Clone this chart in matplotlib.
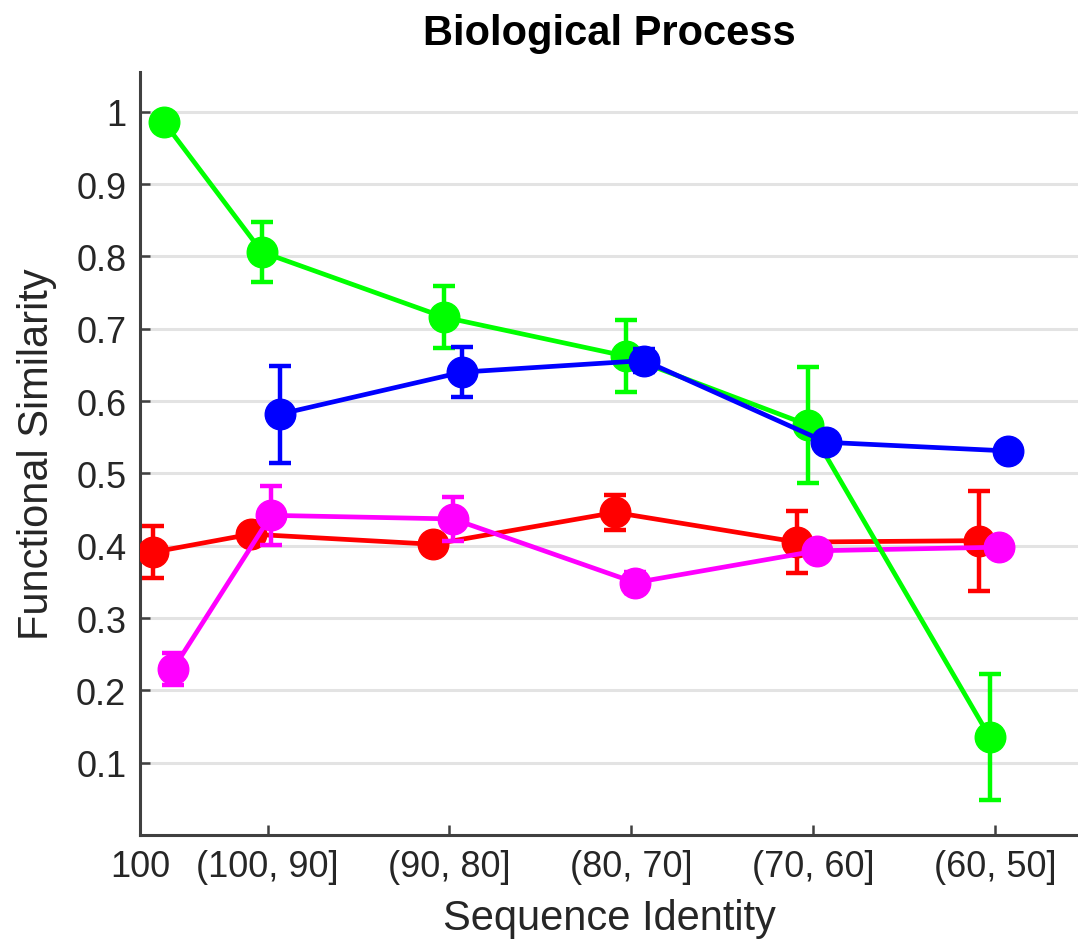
import numpy as np
import matplotlib
matplotlib.use('Agg')
import matplotlib.pyplot as plt

plt.rcParams['font.family'] = ['Liberation Sans', 'DejaVu Sans']

categories = ['100', '(100, 90]', '(90, 80]', '(80, 70]', '(70, 60]', '(60, 50]']
tick_pos = [0.3, 1, 2, 3, 4, 5]
cat_pos = np.array([0.46, 1, 2, 3, 4, 5])

red_y = [0.391, 0.416, 0.402, 0.446, 0.405, 0.407]
red_err = [0.036, 0.010, 0.008, 0.024, 0.043, 0.069]

magenta_y = [0.229, 0.442, 0.437, 0.349, 0.393, 0.398]
magenta_err = [0.022, 0.041, 0.030, 0.014, 0.008, 0.006]

green_y = [0.986, 0.806, 0.716, 0.662, 0.567, 0.135]
green_err = [0.008, 0.041, 0.043, 0.050, 0.080, 0.087]

blue_y = [np.nan, 0.582, 0.640, 0.656, 0.543, 0.531]
blue_err = [np.nan, 0.067, 0.035, 0.016, 0.008, 0.005]

series = [
    (red_y, red_err, '#ff0000', -0.09),
    (magenta_y, magenta_err, '#ff00ff', 0.02),
    (green_y, green_err, '#00ff00', -0.03),
    (blue_y, blue_err, '#0000ff', 0.07),
]

fig = plt.figure(figsize=(10.78, 9.45), dpi=100)
ax = fig.add_axes([0.13, 0.1153, 0.87, 0.8075])

for i, (y, err, col, off) in enumerate(series):
    ax.errorbar(cat_pos + off, y, yerr=err, color=col, marker='o', markersize=22,
                linewidth=3.4, elinewidth=3.2, capsize=8, capthick=3.2, zorder=3 + i)

ax.set_xlim(0.3, 5.454)
ax.set_ylim(0, 1.055)
ax.set_xticks(tick_pos)
ax.set_xticklabels(categories)
ax.set_yticks(np.arange(0.1, 1.01, 0.1))
ax.set_yticklabels(['0.1', '0.2', '0.3', '0.4', '0.5', '0.6', '0.7', '0.8', '0.9', '1'])

ax.yaxis.grid(True, color='#e3e3e3', linewidth=2.2)
ax.set_axisbelow(True)
for s in ['top', 'right']:
    ax.spines[s].set_visible(False)
for s in ['left', 'bottom']:
    ax.spines[s].set_color('#404040')
    ax.spines[s].set_linewidth(2.2)

ax.tick_params(direction='in', length=7, width=1.8, color='#404040',
               labelsize=26, labelcolor='#262626', pad=10)

ax.set_xlabel('Sequence Identity', fontsize=30, color='#262626', labelpad=10)
ax.set_ylabel('Functional Similarity', fontsize=30, color='#262626', labelpad=14)
ax.set_title('Biological Process', fontsize=30, fontweight='bold', pad=20)

plt.savefig('out.png', dpi=100)
